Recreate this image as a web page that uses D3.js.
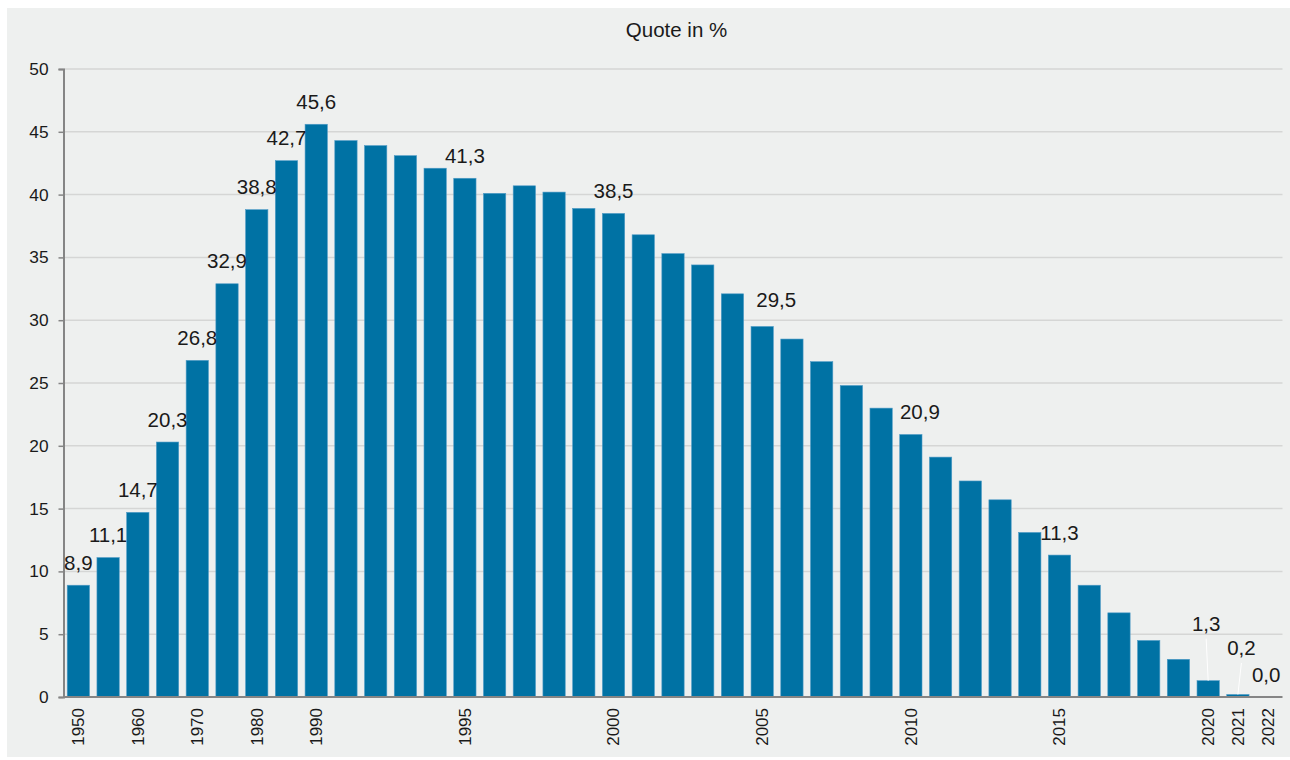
<!DOCTYPE html>
<html>
<head>
<meta charset="utf-8">
<script src="https://cdn.jsdelivr.net/npm/d3@7"></script>
<style>
  html, body { margin: 0; padding: 0; background: #ffffff; }
  svg { display: block; font-family: "Liberation Sans", Arial, sans-serif; }
</style>
</head>
<body>
<svg id="chart" width="1290" height="760"></svg>
<script>
// ---- Data ----
const years = ["1950","1955","1960","1965","1970","1975","1980","1985","1990",
  "1991","1992","1993","1994","1995","1996","1997","1998","1999","2000",
  "2001","2002","2003","2004","2005","2006","2007","2008","2009","2010",
  "2011","2012","2013","2014","2015","2016","2017","2018","2019","2020","2021","2022"];
const values = [8.9, 11.1, 14.7, 20.3, 26.8, 32.9, 38.8, 42.7, 45.6,
  44.3, 43.9, 43.1, 42.1, 41.3, 40.1, 40.7, 40.2, 38.9, 38.5,
  36.8, 35.3, 34.4, 32.1, 29.5, 28.5, 26.7, 24.8, 23.0, 20.9,
  19.1, 17.2, 15.7, 13.1, 11.3, 8.9, 6.7, 4.5, 3.0, 1.3, 0.2, 0.0];
const labeledYears = ["1950","1955","1960","1965","1970","1975","1980","1985","1990",
  "1995","2000","2005","2010","2015","2020","2021","2022"];
const xTickLabels = ["1950","1960","1970","1980","1990","1995","2000","2005","2010","2015","2020","2021","2022"];
const yTicks = [0, 5, 10, 15, 20, 25, 30, 35, 40, 45, 50];
const chartTitle = "Quote in %";

// ---- Layout ----
const svg = d3.select("#chart");
const plotLeft = 63.5, plotRight = 1282.5, plotTop = 69, plotBottom = 697;

svg.append("rect").attr("x", 7).attr("y", 8).attr("width", 1283).attr("height", 749)
  .attr("fill", "#eef0ef");

const x = d3.scaleBand().domain(years).range([plotLeft, plotRight])
  .paddingInner(0.25).paddingOuter(0.125);
const y = d3.scaleLinear().domain([0, 50]).range([plotBottom, plotTop]);

// gridlines
svg.append("g").selectAll("line").data(yTicks.filter(d => d > 0)).join("line")
  .attr("x1", plotLeft).attr("x2", plotRight)
  .attr("y1", d => y(d)).attr("y2", d => y(d))
  .attr("stroke", "#d5d6d5").attr("stroke-width", 1.5);

// y axis
const yAxis = svg.append("g").attr("transform", `translate(${plotLeft},0)`)
  .call(d3.axisLeft(y).tickValues(yTicks).tickSize(5).tickPadding(10).tickFormat(d3.format("d")));
yAxis.select(".domain").attr("stroke", "#858585").attr("stroke-width", 2);
yAxis.selectAll(".tick line").attr("stroke", "#858585").attr("stroke-width", 1.5);
yAxis.selectAll(".tick text").attr("font-size", "17.3px").attr("fill", "#1a1a1a")
  .attr("font-family", "'Liberation Sans', Arial, sans-serif");

// bars
const data = years.map((yr, i) => ({ year: yr, value: values[i] }));
svg.append("g").selectAll("rect").data(data).join("rect")
  .attr("x", d => x(d.year))
  .attr("y", d => y(d.value))
  .attr("width", x.bandwidth())
  .attr("height", d => y(0) - y(d.value))
  .attr("fill", "#0072a4")
  .attr("stroke", d => d.value > 0 ? "#4f9bc6" : "none")
  .attr("stroke-width", 0.6);

// x axis
const xAxis = svg.append("g").attr("transform", `translate(0,${plotBottom})`)
  .call(d3.axisBottom(x).tickValues(xTickLabels).tickSize(0).tickPadding(0));
xAxis.select(".domain").attr("stroke", "#858585").attr("stroke-width", 2)
  .attr("d", `M${plotLeft},0H${plotRight}`);
xAxis.selectAll(".tick text")
  .attr("font-size", "17px").attr("fill", "#1a1a1a")
  .attr("font-family", "'Liberation Sans', Arial, sans-serif")
  .attr("transform", "rotate(-90)")
  .attr("text-anchor", "end")
  .attr("x", -11).attr("y", 0).attr("dy", "0.35em");

// value labels
const fmt = v => v.toFixed(1).replace(".", ",");
const adjust = {
  "2005": { dx: 14, dy: -3.5 },
  "2010": { dx: 9, dy: 0 },
  "2020": { dx: -2, dy: -34.5, leader: true },
  "2021": { dx: 3.5, dy: -24, leader: true },
  "2022": { dx: -1.5, dy: 0 }
};
const labelData = data.filter(d => labeledYears.includes(d.year)).map(d => {
  const a = adjust[d.year] || { dx: 0, dy: 0 };
  const cx = x(d.year) + x.bandwidth() / 2;
  const barTop = y(d.value);
  return { ...d, cx, barTop, lx: cx + a.dx, ly: barTop - 15.5 + a.dy, leader: !!a.leader };
});

svg.append("g").selectAll("line").data(labelData.filter(d => d.leader)).join("line")
  .attr("x1", d => d.lx).attr("y1", d => d.ly + 8)
  .attr("x2", d => d.cx).attr("y2", d => d.barTop)
  .attr("stroke", "#ffffff").attr("stroke-width", 1);

svg.append("g").selectAll("text").data(labelData).join("text")
  .attr("x", d => d.lx).attr("y", d => d.ly)
  .attr("text-anchor", "middle")
  .attr("font-size", "20.5px").attr("fill", "#1a1a1a")
  .text(d => fmt(d.value));

// title
svg.append("text").attr("x", 676.5).attr("y", 37)
  .attr("text-anchor", "middle").attr("font-size", "20.5px").attr("fill", "#1a1a1a")
  .text(chartTitle);
</script>
</body>
</html>
